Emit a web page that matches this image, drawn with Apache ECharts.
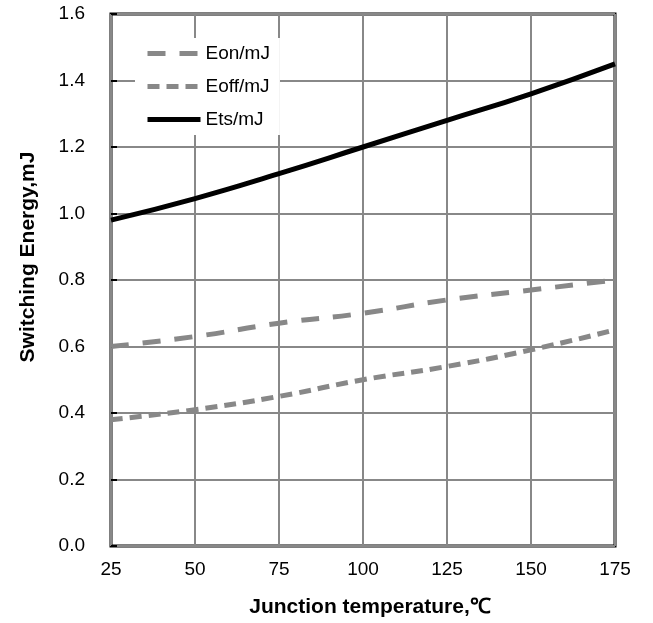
<!DOCTYPE html>
<html>
<head>
<meta charset="utf-8">
<script src="https://cdn.jsdelivr.net/npm/echarts@6/dist/echarts.min.js"></script>
<style>
  html, body { margin: 0; padding: 0; background: #fff; }
  #chart { width: 653px; height: 623px; }
</style>
</head>
<body>
<div id="chart"></div>
<script>
// Junction temperature (°C)
const temps = [25, 50, 75, 100, 125, 150, 175];
// Switching energies (mJ)
const eon = [0.60, 0.63, 0.67, 0.70, 0.74, 0.77, 0.80];
const eoff = [0.38, 0.41, 0.45, 0.50, 0.54, 0.59, 0.65];
const ets = [0.98, 1.045, 1.12, 1.20, 1.28, 1.36, 1.45];
const seriesNames = ['Eon/mJ', 'Eoff/mJ', 'Ets/mJ'];

const font = '"Liberation Sans", Arial, sans-serif';
const pairs = arr => temps.map((t, i) => [t, arr[i]]);

const chart = echarts.init(document.getElementById('chart'));
chart.setOption({
  animation: false,
  backgroundColor: '#fff',
  grid: {
    left: 111, right: 38, top: 14, bottom: 76,
    show: true, borderColor: '#000', borderWidth: 3, backgroundColor: 'transparent'
  },
  legend: {
    left: 135, top: 38,
    orient: 'vertical',
    itemWidth: 53, itemHeight: 19, itemGap: 14, itemTextGap: 10,
    padding: [6, 10, 6, 10],
    backgroundColor: '#fff',
    itemStyle: { opacity: 0 },
    lineStyle: { width: 5 },
    textStyle: { fontFamily: font, fontSize: 19, color: '#000' },
    data: seriesNames
  },
  xAxis: {
    type: 'value', min: 25, max: 175, interval: 25,
    name: 'Junction temperature,℃', nameLocation: 'middle', nameGap: 51,
    nameTextStyle: { fontFamily: font, fontSize: 21, fontWeight: 'bold', color: '#000',
      padding: [0, 0, 0, 14] },
    axisLine: { show: false },
    axisTick: { show: false },
    axisLabel: { fontFamily: font, fontSize: 19, color: '#000', margin: 14 },
    splitLine: { show: true, lineStyle: { color: '#888', width: 2 } }
  },
  yAxis: {
    type: 'value', min: 0, max: 1.6, interval: 0.2,
    name: 'Switching Energy,mJ', nameLocation: 'middle', nameGap: 72,
    nameTextStyle: { fontFamily: font, fontSize: 21, fontWeight: 'bold', color: '#000',
      padding: [0, 0, 0, 46] },
    axisLine: { show: false },
    axisTick: { show: true, inside: true, length: 6, lineStyle: { color: '#000', width: 2 } },
    axisLabel: { fontFamily: font, fontSize: 19, color: '#000', margin: 26,
      formatter: v => v.toFixed(1) },
    splitLine: { show: true, lineStyle: { color: '#888', width: 2 } }
  },
  series: [
    {
      name: seriesNames[0], type: 'line', smooth: true, symbol: 'none',
      data: pairs(eon),
      lineStyle: { color: '#888', width: 5, type: [18, 14] },
      itemStyle: { color: '#888' }, z: 3
    },
    {
      name: seriesNames[1], type: 'line', smooth: true, symbol: 'none',
      data: pairs(eoff),
      lineStyle: { color: '#888', width: 5, type: [12, 7] },
      itemStyle: { color: '#888' }, z: 3
    },
    {
      name: seriesNames[2], type: 'line', smooth: true, symbol: 'none',
      data: pairs(ets),
      lineStyle: { color: '#000', width: 5 },
      itemStyle: { color: '#000' }, z: 4
    }
  ]
});
</script>
</body>
</html>
